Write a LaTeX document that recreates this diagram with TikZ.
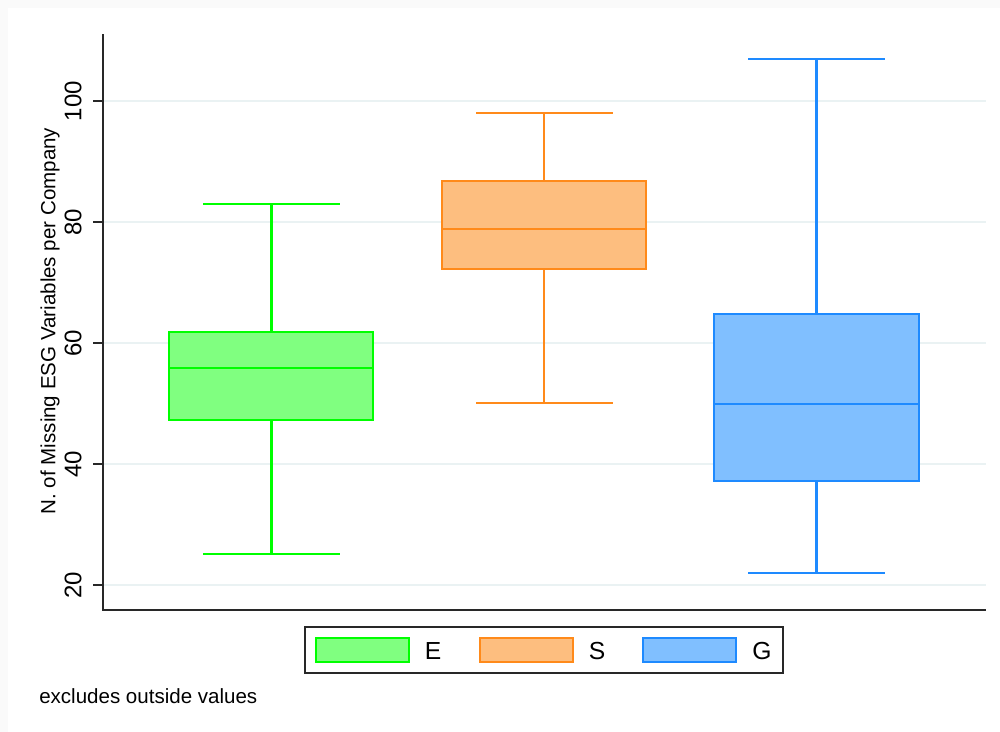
\documentclass[tikz,border=0pt]{standalone}
\usepackage{fontspec}
\setmainfont{Liberation Sans}
\definecolor{bgout}{RGB}{250,250,250}
\definecolor{gridc}{RGB}{234,242,243}
\definecolor{axisc}{RGB}{40,40,40}
\definecolor{Efill}{RGB}{128,255,128}
\definecolor{Eline}{RGB}{0,255,0}
\definecolor{Sfill}{RGB}{253,190,127}
\definecolor{Sline}{RGB}{255,138,26}
\definecolor{Gfill}{RGB}{128,191,255}
\definecolor{Gline}{RGB}{30,138,255}
\tikzset{
  gridline/.style={gridc, line width=1.5pt},
  axisline/.style={axisc, line width=1.2pt},
  boxline/.style={line width=1.6pt},
  ticklab/.style={rotate=90, font=\fontsize{18}{18}\selectfont, inner sep=0pt},
  legtext/.style={font=\fontsize{18.5}{18.5}\selectfont, inner sep=0pt},
}
\begin{document}
\begin{tikzpicture}[x=0.75pt, y=-0.75pt]
\useasboundingbox (0,0) rectangle (1000,732);
\fill[bgout] (0,0) rectangle (1000,732);
\fill[white] (8,8) rectangle (1000,732);
% grid
\foreach \yy in {101,222,343,464,585} {
  \draw[gridline] (103,\yy) -- (986,\yy);
}
% axes
\draw[axisline] (103,34) -- (103,610) -- (986,610);
\foreach \yy/\lab in {101/100,222/80,343/60,464/40,585/20} {
  \draw[axisline] (93,\yy) -- (103,\yy);
  \node[ticklab] (t\lab) at (73,\yy) {\lab};
}
\node[rotate=90, font=\fontsize{15.4}{15.4}\selectfont, inner sep=0pt] (ylab) at (50,321) {N. of Missing ESG Variables per Company};
% E box
\draw[Eline, boxline] (271.5,204) -- (271.5,332);
\draw[Eline, boxline] (271.5,420) -- (271.5,554);
\draw[Eline, boxline] (203,204) -- (340,204);
\draw[Eline, boxline] (203,554) -- (340,554);
\filldraw[fill=Efill, draw=Eline, boxline] (169,332) rectangle (373,420);
\draw[Eline, boxline] (169,368) -- (373,368);
% S box
\draw[Sline, boxline] (544,113) -- (544,181);
\draw[Sline, boxline] (544,269) -- (544,403);
\draw[Sline, boxline] (476,113) -- (613,113);
\draw[Sline, boxline] (476,403) -- (613,403);
\filldraw[fill=Sfill, draw=Sline, boxline] (442,181) rectangle (646,269);
\draw[Sline, boxline] (442,229) -- (646,229);
% G box
\draw[Gline, boxline] (816.5,59) -- (816.5,314);
\draw[Gline, boxline] (816.5,481) -- (816.5,573);
\draw[Gline, boxline] (748,59) -- (885,59);
\draw[Gline, boxline] (748,573) -- (885,573);
\filldraw[fill=Gfill, draw=Gline, boxline] (714,314) rectangle (919,481);
\draw[Gline, boxline] (714,404) -- (919,404);
% legend
\draw[axisc, line width=1.2pt, fill=white] (305,627) rectangle (783,673);
\filldraw[fill=Efill, draw=Eline, boxline] (316,638) rectangle (409,662);
\filldraw[fill=Sfill, draw=Sline, boxline] (480,638) rectangle (573,662);
\filldraw[fill=Gfill, draw=Gline, boxline] (643,638) rectangle (736,662);
\node[legtext] (lE) at (433,651) {E};
\node[legtext] (lS) at (597,651) {S};
\node[legtext] (lG) at (762,651) {G};
\node[anchor=base west, font=\fontsize{15.4}{15.4}\selectfont, inner sep=0pt] (note) at (39,703) {excludes outside values};
\end{tikzpicture}
\end{document}
